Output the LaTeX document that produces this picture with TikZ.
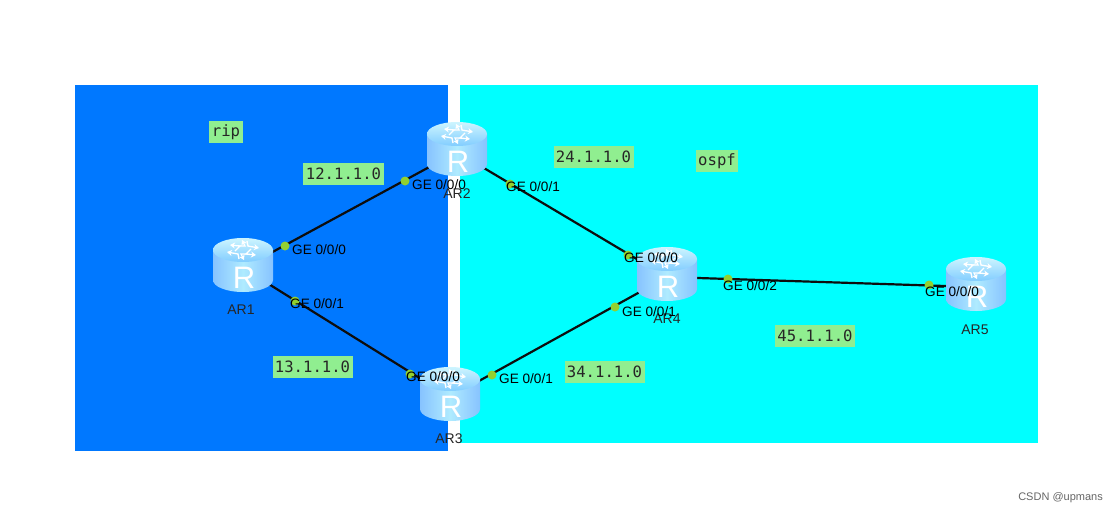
\documentclass[tikz,border=0pt]{standalone}
\usepackage{fontspec}
\setmainfont{Liberation Sans}
\newfontfamily\monof{DejaVu Sans Mono}
\usetikzlibrary{backgrounds,arrows.meta}
\definecolor{ripblue}{RGB}{0,120,255}
\definecolor{ospfcyan}{RGB}{0,255,255}
\definecolor{netgreen}{RGB}{144,238,144}
\definecolor{dotgreen}{RGB}{146,208,48}
\definecolor{rtedge}{RGB}{135,195,255}
\definecolor{rtmid}{RGB}{175,235,255}
\definecolor{rttop}{RGB}{205,245,255}
\definecolor{rttopb}{RGB}{130,205,255}
\tikzset{
  x=1pt,y=-1pt,
  rarrow/.style={white,line width=1.3pt,-{Stealth[length=5pt,width=6pt]}},
  router/.style={minimum width=62pt,minimum height=62pt,inner sep=0pt,outer sep=0pt,
    path picture={
      \begin{scope}[shift={(path picture bounding box.center)},x=1pt,y=-1pt]
        \path[left color=rtedge,right color=rtedge,middle color=rtmid]
          (-30,-18) -- (-30,12) arc[start angle=180,end angle=0,x radius=30,y radius=12] -- (30,-18) -- cycle;
        \path[top color=rttop,bottom color=rttopb] (0,-18) ellipse[x radius=30,y radius=12];
        \draw[rarrow] (-8,-17) -- (-3,-22) -- (-13,-23);
        \draw[rarrow] (-5,-22) -- (2,-22) -- (-1,-28);
        \draw[rarrow] (8,-19) -- (3,-14) -- (13,-13);
        \draw[rarrow] (5,-14) -- (-2,-14) -- (1,-8);
        \draw[rarrow] (4,-27) -- (5,-22) -- (16,-20);
        \draw[rarrow] (-4,-9) -- (-5,-14) -- (-16,-16);
        \node[text=white,font=\fontsize{31}{31}\selectfont,inner sep=0pt] at (1,10) {R};
      \end{scope}
    }},
  link/.style={line width=2.2pt,black!95},
  netlabel/.style={fill=netgreen,inner sep=0pt,minimum height=22pt,font=\monof\fontsize{15.6}{16}\selectfont,text=black!85},
  port/.style={circle,fill=dotgreen,inner sep=0pt,minimum size=9pt},
  portlabel/.style={anchor=west,inner sep=0pt,font=\fontsize{13.6}{14}\selectfont,text=black},
  rname/.style={inner sep=0pt,font=\fontsize{14}{15}\selectfont,text=black!85},
}
\begin{document}
\begin{tikzpicture}
\useasboundingbox (0,0) rectangle (1118,514);
% routers
\node[router] (AR1) at (243,268) {};
\node[router] (AR2) at (457,152) {};
\node[router] (AR3) at (450,397) {};
\node[router] (AR4) at (667,277) {};
\node[router] (AR5) at (976,287) {};
\begin{scope}[on background layer]
  \fill[white] (0,0) rectangle (1118,514);
  \fill[ripblue] (75,85) rectangle (448,451);
  \fill[ospfcyan] (460,85) rectangle (1038,443);
  \draw[link] (AR1.center) -- (AR2.center);
  \draw[link] (AR1.center) -- (AR3.center);
  \draw[link] (AR2.center) -- (AR4.center);
  \draw[link] (AR3.center) -- (AR4.center);
  \draw[link] (AR4.center) -- (AR5.center);
\end{scope}
% ports
\node[port] (p1a) at (285,246) {};
\node[port] (p1b) at (295,301) {};
\node[port] (p2a) at (405,181) {};
\node[port] (p2b) at (510,184) {};
\node[port] (p3a) at (410,374) {};
\node[port] (p3b) at (492,375) {};
\node[port] (p4a) at (628,255) {};
\node[port] (p4b) at (615,307) {};
\node[port] (p4c) at (728,279) {};
\node[port] (p5a) at (929,285) {};
% router names
\node[rname] (nAR1) at (241,310) {AR1};
\node[rname] (nAR2) at (457,194) {AR2};
\node[rname] (nAR3) at (449,439) {AR3};
\node[rname] (nAR4) at (667,319) {AR4};
\node[rname] (nAR5) at (975,330) {AR5};
% port labels
\node[portlabel] (l1a) at (292,250) {GE 0/0/0};
\node[portlabel] (l1b) at (290,303.5) {GE 0/0/1};
\node[portlabel] (l2a) at (412,185) {GE 0/0/0};
\node[portlabel] (l2b) at (506,186.5) {GE 0/0/1};
\node[portlabel] (l3a) at (406,376.5) {GE 0/0/0};
\node[portlabel] (l3b) at (499,378.5) {GE 0/0/1};
\node[portlabel] (l4a) at (624,257.5) {GE 0/0/0};
\node[portlabel] (l4b) at (622,311.5) {GE 0/0/1};
\node[portlabel] (l4c) at (723,286) {GE 0/0/2};
\node[portlabel] (l5a) at (925,292) {GE 0/0/0};
% network labels
\node[netlabel,minimum width=34pt] (rip) at (226,132) {rip};
\node[netlabel,minimum width=42pt] (ospf) at (717,161) {ospf};
\node[netlabel,minimum width=81pt] (n12) at (343.5,174) {12.1.1.0};
\node[netlabel,minimum width=80pt] (n13) at (312.5,367) {13.1.1.0};
\node[netlabel,minimum width=80pt] (n24) at (593.5,156.5) {24.1.1.0};
\node[netlabel,minimum width=80pt] (n34) at (604.5,371.5) {34.1.1.0};
\node[netlabel,minimum width=80pt] (n45) at (815,336) {45.1.1.0};
% watermark
\node[inner sep=0pt,anchor=east,font=\fontsize{11}{12}\selectfont,text=black!60] (wm) at (1103,498) {CSDN @upmans};
\end{tikzpicture}
\end{document}
